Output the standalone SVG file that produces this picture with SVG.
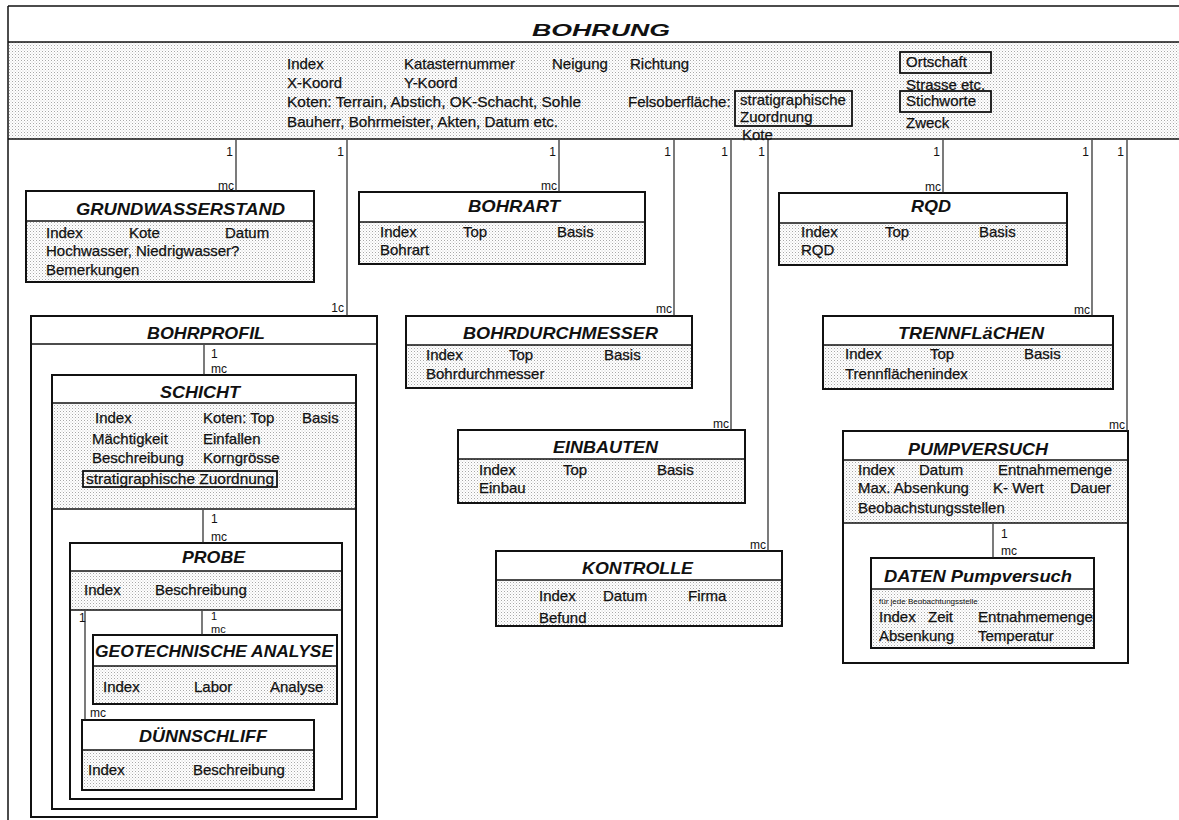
<svg xmlns="http://www.w3.org/2000/svg" width="1179" height="820" viewBox="0 0 1179 820">
<defs>
<pattern id="dots" width="3" height="3" patternUnits="userSpaceOnUse">
<rect width="3" height="3" fill="#ffffff"/>
<rect x="0" y="0" width="1" height="1" fill="#a8a8a8"/>
<rect x="1.5" y="1.5" width="1" height="1" fill="#cccccc"/>
</pattern>
<style>
.t{font-family:"Liberation Sans",Arial,sans-serif;font-size:15px;fill:#111;stroke:#111;stroke-width:0.25}
.s{font-family:"Liberation Sans",Arial,sans-serif;font-size:8px;fill:#111}
.h{font-family:"Liberation Sans",Arial,sans-serif;font-size:17px;font-weight:bold;font-style:italic;fill:#111}
.lbl{font-family:"Liberation Sans",Arial,sans-serif;font-size:12px;fill:#111}
.sm{font-size:11px}
.box{fill:none;stroke:#111;stroke-width:2}
.bg{fill:#fff}
.sh{fill:url(#dots)}
.sep{stroke:#111;stroke-width:1.5}
.ib{fill:none;stroke:#111;stroke-width:1.8}
.conn line{stroke:#222;stroke-width:1.2}
</style>
</defs>
<rect width="1179" height="820" fill="#fff"/>

<g id="bohrung">
<rect class="sh" x="8" y="42" width="1171" height="97"/>
<line class="sep" x1="8" y1="6" x2="1179" y2="6" stroke-width="2"/>
<line class="sep" x1="8" y1="42" x2="1179" y2="42"/>
<line class="sep" x1="8" y1="139" x2="1179" y2="139"/>
<line class="sep" x1="8" y1="6" x2="8" y2="820" stroke-width="2"/>
<text class="h" x="532" y="36" font-size="24" textLength="138" lengthAdjust="spacingAndGlyphs">BOHRUNG</text>
<text class="t" x="287" y="69">Index</text>
<text class="t" x="404" y="69">Katasternummer</text>
<text class="t" x="552" y="69">Neigung</text>
<text class="t" x="630" y="69">Richtung</text>
<text class="t" x="287" y="88">X-Koord</text>
<text class="t" x="404" y="88">Y-Koord</text>
<text class="t" x="287" y="107" textLength="294" lengthAdjust="spacingAndGlyphs">Koten:  Terrain, Abstich, OK-Schacht, Sohle</text>
<text class="t" x="628" y="107">Felsoberfläche:</text>
<text class="t" x="287" y="127" textLength="271" lengthAdjust="spacingAndGlyphs">Bauherr, Bohrmeister, Akten, Datum etc.</text>
<rect class="ib" x="735" y="91" width="117" height="35"/>
<text class="t" x="740" y="105">stratigraphische</text>
<text class="t" x="740" y="122">Zuordnung</text>
<text class="t" x="742" y="140">Kote</text>
<rect class="ib" x="900" y="52" width="91" height="21"/>
<text class="t" x="906" y="67">Ortschaft</text>
<text class="t" x="906" y="90">Strasse etc.</text>
<rect class="ib" x="900" y="91" width="91" height="21"/>
<text class="t" x="906" y="106">Stichworte</text>
<text class="t" x="906" y="128">Zweck</text>
</g>

<g id="grundwasserstand">
<rect class="bg" x="26" y="191" width="288" height="91"/>
<rect class="sh" x="26" y="221" width="288" height="61"/>
<line class="sep" x1="26" y1="221" x2="314" y2="221"/>
<rect class="box" x="26" y="191" width="288" height="91"/>
<text class="h" x="76" y="215" textLength="209" lengthAdjust="spacingAndGlyphs">GRUNDWASSERSTAND</text>
<text class="t" x="46" y="238">Index</text>
<text class="t" x="129" y="238">Kote</text>
<text class="t" x="225" y="238">Datum</text>
<text class="t" x="46" y="256">Hochwasser, Niedrigwasser?</text>
<text class="t" x="46" y="275">Bemerkungen</text>
</g>

<g id="bohrart">
<rect class="bg" x="359" y="192" width="286" height="72"/>
<rect class="sh" x="359" y="222" width="286" height="42"/>
<line class="sep" x1="359" y1="222" x2="645" y2="222"/>
<rect class="box" x="359" y="192" width="286" height="72"/>
<text class="h" x="468" y="212" textLength="92" lengthAdjust="spacingAndGlyphs">BOHRART</text>
<text class="t" x="380" y="237">Index</text>
<text class="t" x="463" y="237">Top</text>
<text class="t" x="557" y="237">Basis</text>
<text class="t" x="380" y="255">Bohrart</text>
</g>

<g id="rqd">
<rect class="bg" x="779" y="193" width="288" height="72"/>
<rect class="sh" x="779" y="223" width="288" height="42"/>
<line class="sep" x1="779" y1="223" x2="1067" y2="223"/>
<rect class="box" x="779" y="193" width="288" height="72"/>
<text class="h" x="911" y="212" textLength="40" lengthAdjust="spacingAndGlyphs">RQD</text>
<text class="t" x="801" y="237">Index</text>
<text class="t" x="885" y="237">Top</text>
<text class="t" x="979" y="237">Basis</text>
<text class="t" x="801" y="255">RQD</text>
</g>

<g id="bohrdurchmesser">
<rect class="bg" x="406" y="316" width="286" height="72"/>
<rect class="sh" x="406" y="345" width="286" height="43"/>
<line class="sep" x1="406" y1="345" x2="692" y2="345"/>
<rect class="box" x="406" y="316" width="286" height="72"/>
<text class="h" x="463" y="339" textLength="195" lengthAdjust="spacingAndGlyphs">BOHRDURCHMESSER</text>
<text class="t" x="426" y="360">Index</text>
<text class="t" x="509" y="360">Top</text>
<text class="t" x="604" y="360">Basis</text>
<text class="t" x="426" y="379">Bohrdurchmesser</text>
</g>

<g id="trennflaechen">
<rect class="bg" x="823" y="316" width="290" height="73"/>
<rect class="sh" x="823" y="345" width="290" height="44"/>
<line class="sep" x1="823" y1="345" x2="1113" y2="345"/>
<rect class="box" x="823" y="316" width="290" height="73"/>
<text class="h" x="898" y="339" textLength="146" lengthAdjust="spacingAndGlyphs">TRENNFLäCHEN</text>
<text class="t" x="845" y="359">Index</text>
<text class="t" x="930" y="359">Top</text>
<text class="t" x="1024" y="359">Basis</text>
<text class="t" x="845" y="379">Trennflächenindex</text>
</g>

<g id="einbauten">
<rect class="bg" x="458" y="430" width="287" height="73"/>
<rect class="sh" x="458" y="459" width="287" height="44"/>
<line class="sep" x1="458" y1="459" x2="745" y2="459"/>
<rect class="box" x="458" y="430" width="287" height="73"/>
<text class="h" x="553" y="453" textLength="105" lengthAdjust="spacingAndGlyphs">EINBAUTEN</text>
<text class="t" x="479" y="475">Index</text>
<text class="t" x="563" y="475">Top</text>
<text class="t" x="657" y="475">Basis</text>
<text class="t" x="479" y="493">Einbau</text>
</g>

<g id="kontrolle">
<rect class="bg" x="496" y="551" width="286" height="75"/>
<rect class="sh" x="496" y="580" width="286" height="46"/>
<line class="sep" x1="496" y1="580" x2="782" y2="580"/>
<rect class="box" x="496" y="551" width="286" height="75"/>
<text class="h" x="582" y="574" textLength="111" lengthAdjust="spacingAndGlyphs">KONTROLLE</text>
<text class="t" x="539" y="601">Index</text>
<text class="t" x="603" y="601">Datum</text>
<text class="t" x="688" y="601">Firma</text>
<text class="t" x="539" y="623">Befund</text>
</g>

<g id="pumpversuch">
<rect class="bg" x="843" y="431" width="285" height="232"/>
<rect class="sh" x="843" y="460" width="285" height="63"/>
<line class="sep" x1="843" y1="460" x2="1128" y2="460"/>
<line class="sep" x1="843" y1="523" x2="1128" y2="523"/>
<rect class="box" x="843" y="431" width="285" height="232"/>
<text class="h" x="908" y="455" textLength="140" lengthAdjust="spacingAndGlyphs">PUMPVERSUCH</text>
<text class="t" x="858" y="475">Index</text>
<text class="t" x="919" y="475">Datum</text>
<text class="t" x="998" y="475" textLength="114" lengthAdjust="spacingAndGlyphs">Entnahmemenge</text>
<text class="t" x="858" y="493">Max. Absenkung</text>
<text class="t" x="993" y="493">K- Wert</text>
<text class="t" x="1070" y="493">Dauer</text>
<text class="t" x="858" y="513">Beobachstungsstellen</text>
</g>

<g id="daten-pumpversuch">
<rect class="bg" x="871" y="558" width="223" height="90"/>
<rect class="sh" x="871" y="589" width="223" height="59"/>
<line class="sep" x1="871" y1="589" x2="1094" y2="589"/>
<rect class="box" x="871" y="558" width="223" height="90"/>
<text class="h" x="884" y="582" textLength="188" lengthAdjust="spacingAndGlyphs">DATEN Pumpversuch</text>
<text class="s" x="879" y="604">für jede Beobachtungsstelle</text>
<text class="t" x="879" y="622">Index</text>
<text class="t" x="928" y="622">Zeit</text>
<text class="t" x="978" y="622" textLength="115" lengthAdjust="spacingAndGlyphs">Entnahmemenge</text>
<text class="t" x="879" y="641">Absenkung</text>
<text class="t" x="978" y="641">Temperatur</text>
</g>

<g id="bohrprofil">
<rect class="bg" x="31" y="316" width="346" height="501"/>
<line class="sep" x1="31" y1="344" x2="377" y2="344"/>
<rect class="box" x="31" y="316" width="346" height="501"/>
<text class="h" x="147" y="339" textLength="118" lengthAdjust="spacingAndGlyphs">BOHRPROFIL</text>
</g>

<g id="schicht">
<rect class="bg" x="52" y="375" width="304" height="434"/>
<rect class="sh" x="52" y="403" width="304" height="106"/>
<line class="sep" x1="52" y1="403" x2="356" y2="403"/>
<line class="sep" x1="52" y1="509" x2="356" y2="509"/>
<rect class="box" x="52" y="375" width="304" height="434"/>
<text class="h" x="160" y="398" textLength="80" lengthAdjust="spacingAndGlyphs">SCHICHT</text>
<text class="t" x="95" y="423">Index</text>
<text class="t" x="203" y="423">Koten: Top</text>
<text class="t" x="302" y="423">Basis</text>
<text class="t" x="92" y="444">Mächtigkeit</text>
<text class="t" x="203" y="444">Einfallen</text>
<text class="t" x="92" y="463">Beschreibung</text>
<text class="t" x="203" y="463">Korngrösse</text>
<rect class="ib" x="83" y="471" width="194" height="16"/>
<text class="t" x="86" y="484" textLength="188" lengthAdjust="spacingAndGlyphs">stratigraphische Zuordnung</text>
</g>

<g id="probe">
<rect class="bg" x="70" y="543" width="272" height="256"/>
<rect class="sh" x="70" y="571" width="272" height="39"/>
<line class="sep" x1="70" y1="571" x2="342" y2="571"/>
<line class="sep" x1="70" y1="610" x2="342" y2="610"/>
<rect class="box" x="70" y="543" width="272" height="256"/>
<text class="h" x="182" y="563" textLength="63" lengthAdjust="spacingAndGlyphs">PROBE</text>
<text class="t" x="84" y="595">Index</text>
<text class="t" x="155" y="595">Beschreibung</text>
</g>

<g id="geotechnische-analyse">
<rect class="bg" x="93" y="635" width="244" height="69"/>
<rect class="sh" x="93" y="666" width="244" height="38"/>
<line class="sep" x1="93" y1="666" x2="337" y2="666"/>
<rect class="box" x="93" y="635" width="244" height="69"/>
<text class="h" x="95" y="657" textLength="238" lengthAdjust="spacingAndGlyphs">GEOTECHNISCHE ANALYSE</text>
<text class="t" x="103" y="692">Index</text>
<text class="t" x="194" y="692">Labor</text>
<text class="t" x="270" y="692">Analyse</text>
</g>

<g id="duennschliff">
<rect class="bg" x="82" y="720" width="232" height="70"/>
<rect class="sh" x="82" y="750" width="232" height="40"/>
<line class="sep" x1="82" y1="750" x2="314" y2="750"/>
<rect class="box" x="82" y="720" width="232" height="70"/>
<text class="h" x="139" y="742" textLength="128" lengthAdjust="spacingAndGlyphs">DÜNNSCHLIFF</text>
<text class="t" x="88" y="775">Index</text>
<text class="t" x="193" y="775">Beschreibung</text>
</g>

<g id="connectors" class="conn">
<line x1="236" y1="140" x2="236" y2="191"/>
<line x1="347" y1="140" x2="347" y2="316"/>
<line x1="559" y1="140" x2="559" y2="192"/>
<line x1="674" y1="140" x2="674" y2="316"/>
<line x1="731" y1="140" x2="731" y2="430"/>
<line x1="768" y1="140" x2="768" y2="551"/>
<line x1="943" y1="140" x2="943" y2="193"/>
<line x1="1092" y1="140" x2="1092" y2="316"/>
<line x1="1127" y1="140" x2="1127" y2="431"/>
<line x1="204" y1="345" x2="204" y2="375"/>
<line x1="203" y1="510" x2="203" y2="543"/>
<line x1="202" y1="611" x2="202" y2="635"/>
<line x1="85" y1="611" x2="85" y2="720"/>
<line x1="993" y1="524" x2="993" y2="558"/>
<text class="lbl" x="233" y="156" text-anchor="end">1</text>
<text class="lbl" x="234" y="190" text-anchor="end">mc</text>
<text class="lbl" x="344" y="156" text-anchor="end">1</text>
<text class="lbl" x="344" y="312" text-anchor="end">1c</text>
<text class="lbl" x="556" y="156" text-anchor="end">1</text>
<text class="lbl" x="557" y="190" text-anchor="end">mc</text>
<text class="lbl" x="671" y="156" text-anchor="end">1</text>
<text class="lbl" x="672" y="313" text-anchor="end">mc</text>
<text class="lbl" x="728" y="156" text-anchor="end">1</text>
<text class="lbl" x="729" y="428" text-anchor="end">mc</text>
<text class="lbl" x="765" y="156" text-anchor="end">1</text>
<text class="lbl" x="766" y="549" text-anchor="end">mc</text>
<text class="lbl" x="940" y="156" text-anchor="end">1</text>
<text class="lbl" x="941" y="191" text-anchor="end">mc</text>
<text class="lbl" x="1089" y="156" text-anchor="end">1</text>
<text class="lbl" x="1090" y="314" text-anchor="end">mc</text>
<text class="lbl" x="1124" y="156" text-anchor="end">1</text>
<text class="lbl" x="1125" y="429" text-anchor="end">mc</text>
<text class="lbl" x="211" y="358">1</text>
<text class="lbl" x="211" y="373">mc</text>
<text class="lbl" x="211" y="523">1</text>
<text class="lbl" x="211" y="541">mc</text>
<text class="lbl sm" x="211" y="620">1</text>
<text class="lbl sm" x="211" y="633">mc</text>
<text class="lbl" x="79" y="622">1</text>
<text class="lbl" x="90" y="717">mc</text>
<text class="lbl" x="1001" y="538">1</text>
<text class="lbl" x="1001" y="555">mc</text>
</g>
</svg>
